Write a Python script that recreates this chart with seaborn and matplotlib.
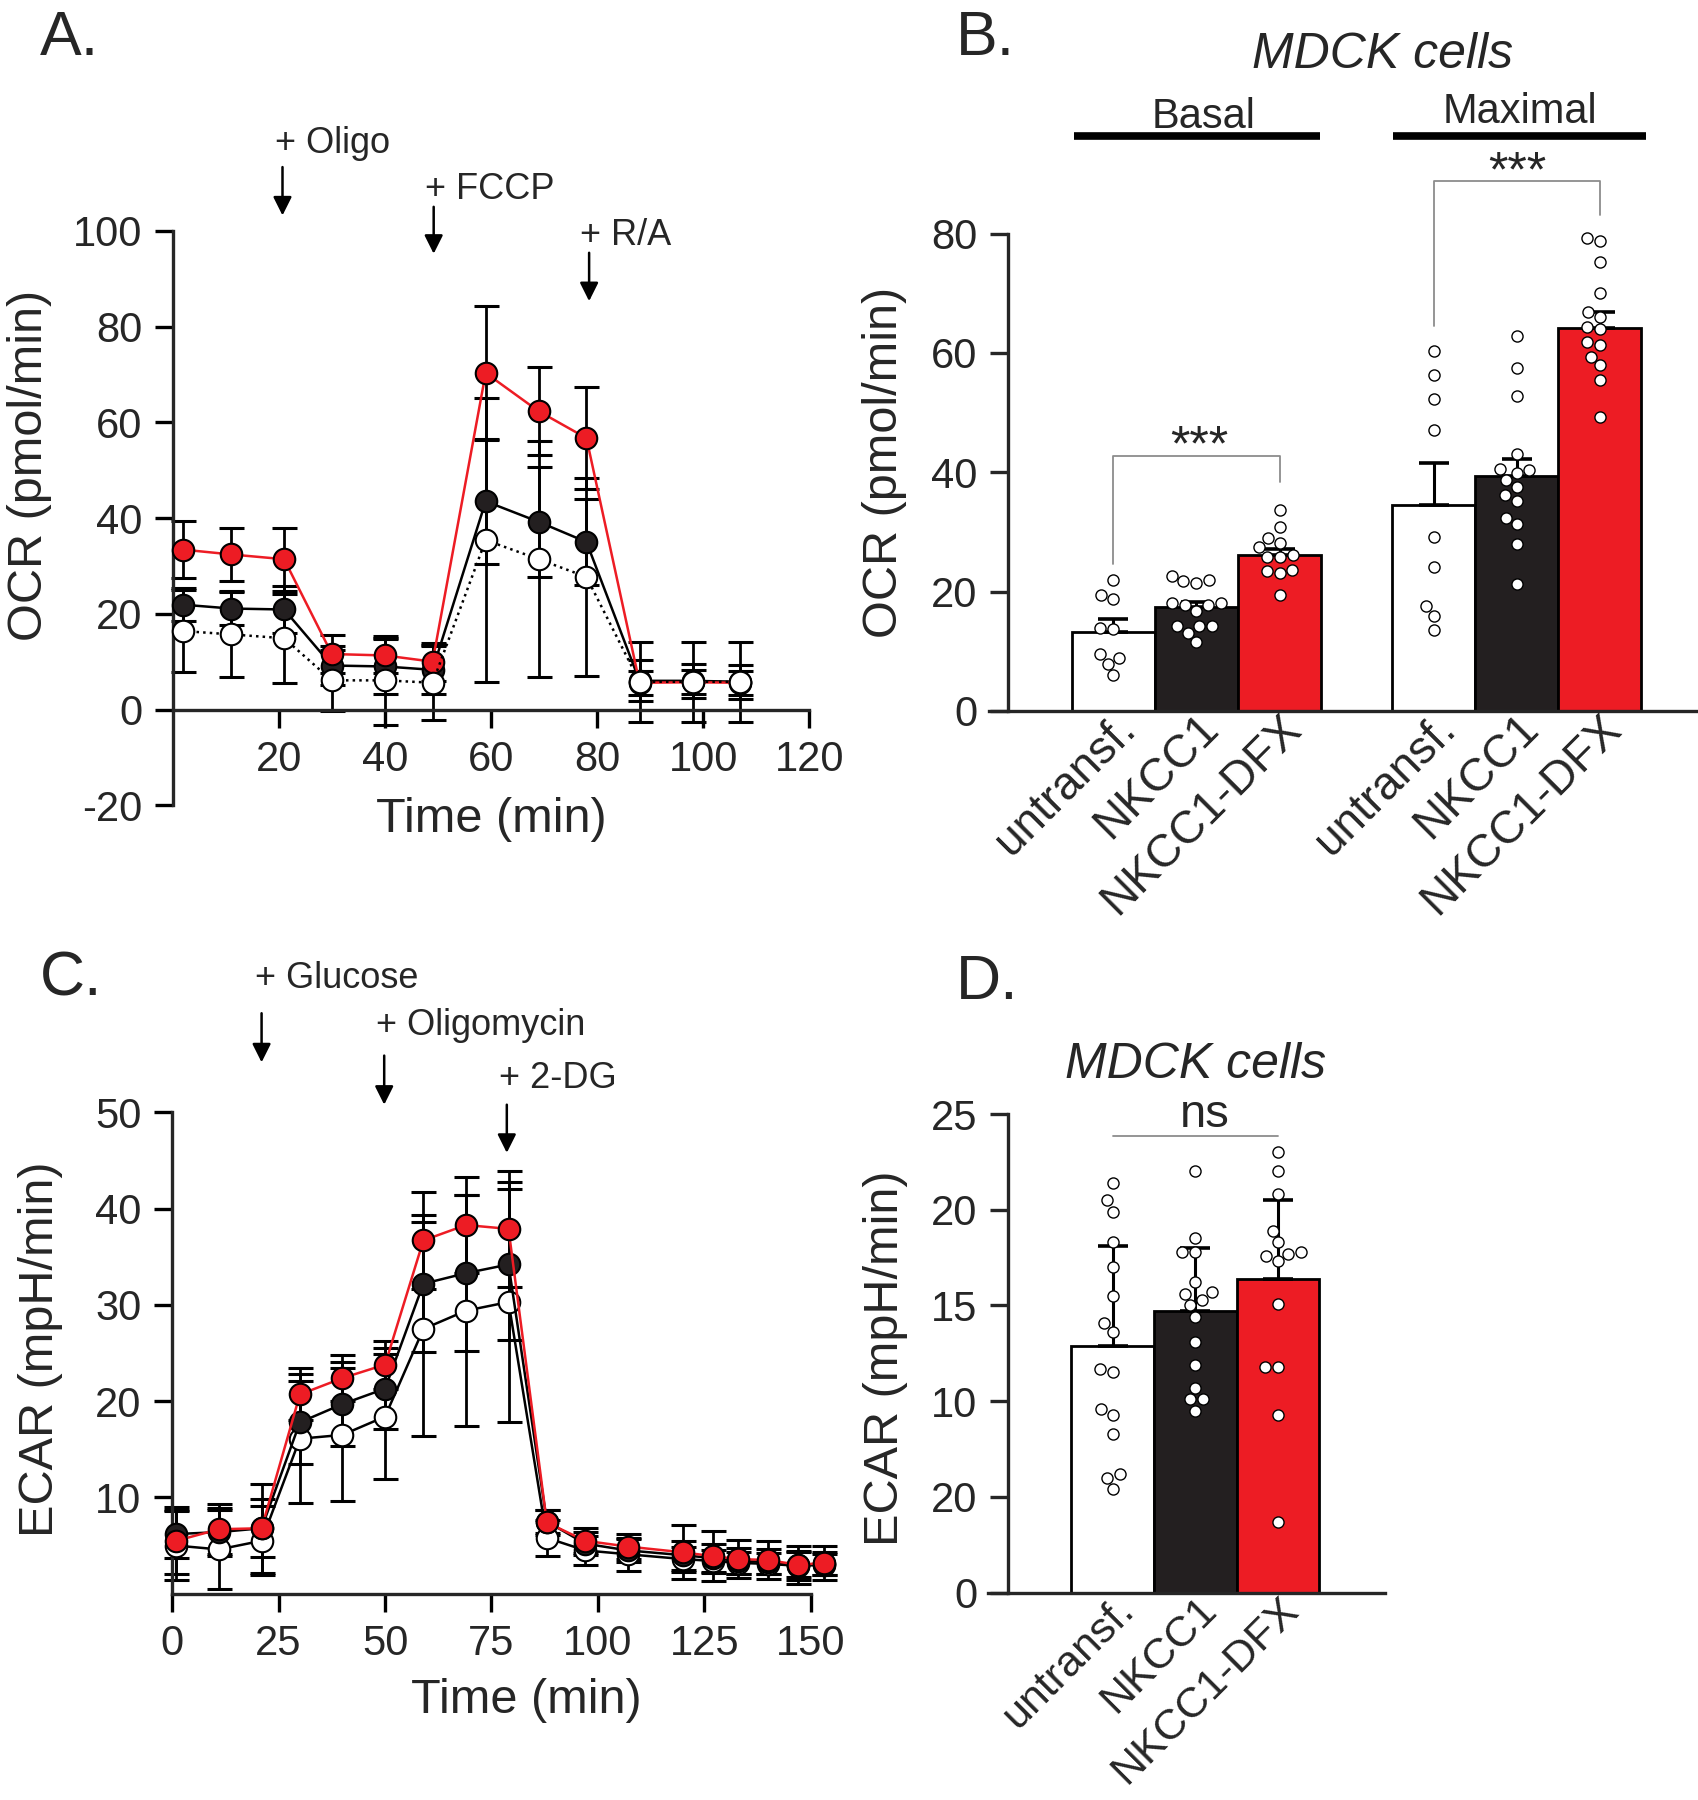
import numpy as np
import pandas as pd
import seaborn as sns
import matplotlib.pyplot as plt
import matplotlib.transforms as mtransforms

# ---------------- data ----------------
# A. OCR time course
time_a = [2, 11, 21, 30, 40, 49, 59, 69, 78, 88, 98, 107]
ocr_untransf = [16.4, 15.7, 14.9, 6.1, 6.1, 5.6, 35.4, 31.4, 27.7, 5.8, 5.8, 5.8]
ocr_untransf_err = [8.6, 9.0, 9.3, 6.3, 9.3, 7.8, 29.6, 24.6, 20.6, 8.3, 8.3, 8.3]
ocr_nkcc1 = [21.9, 21.1, 20.9, 9.2, 9.0, 8.3, 43.5, 39.2, 35.0, 6.0, 6.0, 5.8]
ocr_nkcc1_err = [3.5, 3.5, 5.0, 4.0, 5.7, 5.0, 13.0, 11.5, 9.0, 4.3, 3.5, 3.5]
ocr_dfx = [33.4, 32.4, 31.4, 11.6, 11.3, 10.0, 70.3, 62.3, 56.7, 5.6, 5.7, 5.6]
ocr_dfx_err = [6.0, 5.6, 6.6, 4.0, 3.6, 4.0, 14.0, 9.2, 10.7, 2.5, 2.5, 2.5]

# C. ECAR time course
time_c = [1, 11, 21, 30, 40, 50, 59, 69, 79, 88, 97, 107, 120, 127, 133, 140, 147, 153]
ecar_untransf = [5.0, 4.6, 5.5, 16.1, 16.5, 18.4, 27.5, 29.4, 30.3, 5.8, 4.5, 4.1, 3.6, 3.4, 3.2, 3.1, 2.9, 3.0]
ecar_untransf_err = [3.6, 4.1, 3.6, 6.7, 6.9, 6.5, 11.1, 12.0, 12.5, 1.9, 1.5, 1.7, 1.3, 1.1, 1.1, 1.1, 1.5, 1.1]
ecar_nkcc1 = [6.2, 6.4, 6.8, 17.8, 19.7, 21.3, 32.2, 33.3, 34.2, 7.5, 5.2, 4.5, 4.0, 3.7, 3.4, 3.3, 3.0, 3.1]
ecar_nkcc1_err = [2.5, 2.5, 3.0, 4.3, 4.4, 4.2, 7.1, 8.1, 7.8, 1.2, 1.2, 1.2, 1.5, 1.5, 1.3, 1.3, 1.3, 1.2]
ecar_dfx = [5.5, 6.7, 6.8, 20.7, 22.4, 23.8, 36.7, 38.3, 37.9, 7.4, 5.5, 4.9, 4.3, 3.9, 3.6, 3.5, 3.0, 3.2]
ecar_dfx_err = [3.5, 2.6, 4.6, 2.7, 2.4, 2.5, 5.0, 5.0, 6.0, 1.3, 1.3, 1.3, 2.8, 2.6, 2.0, 2.0, 2.0, 1.8]

# B. OCR bars (basal / maximal)
conditions = ['untransf.', 'NKCC1', 'NKCC1-DFX']
ocr_groups = ['Basal', 'Maximal']
basal_mean = [13.2, 17.4, 26.1]
basal_err = [2.2, 0.9, 1.0]
maximal_mean = [34.5, 39.3, 64.2]
maximal_err = [7.1, 3.0, 2.7]
basal_pts = [
    [22.0, 19.5, 18.8, 13.9, 13.7, 8.9, 9.6, 7.9, 6.0],
    [22.6, 21.7, 21.5, 22.0, 17.8, 17.8, 16.8, 18.1, 18.1, 14.2, 14.2, 14.2, 11.5, 13.1],
    [33.6, 30.9, 29.0, 28.2, 27.5, 26.1, 25.8, 25.8, 23.6, 23.1, 23.4, 19.5],
]
maximal_pts = [
    [60.4, 56.3, 52.2, 47.1, 29.2, 24.1, 17.6, 15.9, 13.5],
    [62.9, 57.5, 52.8, 43.0, 40.6, 40.3, 38.7, 39.8, 37.6, 35.2, 36.2, 31.3, 32.4, 28.0, 21.2],
    [78.7, 79.3, 75.3, 70.0, 66.9, 66.1, 64.0, 64.3, 61.3, 61.9, 59.4, 57.9, 55.5, 49.2],
]

# D. ECAR bars
ecar_mean = [12.9, 14.7, 16.4]
ecar_err = [5.2, 3.3, 4.1]
ecar_pts = [
    [21.4, 20.5, 19.9, 18.3, 17.0, 15.5, 14.1, 13.6, 11.7, 11.5, 9.6, 9.3, 8.3, 6.2, 6.0, 5.4],
    [22.0, 18.5, 17.8, 17.8, 16.2, 15.6, 15.7, 15.3, 15.0, 14.4, 13.1, 11.9, 10.7, 10.1, 10.1, 9.5],
    [23.0, 22.0, 20.8, 18.9, 18.3, 17.7, 17.6, 17.8, 17.3, 15.1, 11.8, 11.8, 9.3, 3.7],
]
d_ytick_labels = ['0', '20', '10', '15', '20', '25']

# ---------------- style ----------------
sns.set_style('ticks')
plt.rcParams['font.family'] = ['Liberation Sans', 'DejaVu Sans']
plt.rcParams['axes.unicode_minus'] = False
plt.rcParams['axes.linewidth'] = 2.4

RED = '#ed1c24'
BLACK = '#231f20'
palette = dict(zip(conditions, ['white', BLACK, RED]))

fig = plt.figure(figsize=(16.98, 18), dpi=100)
axA = fig.add_axes([0.1017, 0.5526, 0.3749, 0.3192])
axB = fig.add_axes([0.5822, 0.6051, 0.4178, 0.2651])
axC = fig.add_axes([0.1014, 0.1146, 0.3761, 0.2674])
axD = fig.add_axes([0.5817, 0.1152, 0.2337, 0.2659])


def style_axes(ax):
    ax.spines[['top', 'right']].set_visible(False)
    ax.tick_params(length=13, width=2.4, labelsize=30, pad=9, color='black')


def time_course(ax, t, series):
    for vals, errs, face, ls, z in series:
        ax.errorbar(t, vals, yerr=errs, fmt='none', ecolor='black', elinewidth=2,
                    capsize=9, capthick=2.2, zorder=2, clip_on=False)
        line_color = RED if face == RED else 'black'
        sns.lineplot(x=t, y=vals, ax=ax, color=line_color, linestyle=ls, linewidth=1.8,
                     marker='o', markersize=15.5, markerfacecolor=face,
                     markeredgecolor='black', markeredgewidth=1.5, zorder=z, clip_on=False)


def arrow(ax, x, y0, y1, label, tx, ty):
    ax.annotate('', xy=(x, y1), xytext=(x, y0), annotation_clip=False,
                arrowprops=dict(arrowstyle='-|>', color='black', lw=1.8, mutation_scale=28,
                                shrinkA=0, shrinkB=0))
    ax.text(tx, ty, label, fontsize=26, ha='left', va='baseline', clip_on=False)


# ---------------- A ----------------
time_course(axA, time_a, [
    (ocr_nkcc1, ocr_nkcc1_err, BLACK, '-', 3),
    (ocr_dfx, ocr_dfx_err, RED, '-', 4),
    (ocr_untransf, ocr_untransf_err, 'white', ':', 5),
])
style_axes(axA)
axA.set_xlim(0, 120)
axA.set_ylim(-20, 100)
axA.spines['bottom'].set_position(('data', 0))
axA.set_xticks([20, 40, 60, 80, 100, 120])
axA.set_yticks(range(-20, 101, 20))
axA.set_xlabel('Time (min)', fontsize=35)
axA.set_ylabel('OCR (pmol/min)', fontsize=35)
axA.xaxis.set_label_coords(0.5, 0.015)
axA.yaxis.set_label_coords(-0.19, 0.592)
arrow(axA, 20.7, 113.3, 103.2, '+ Oligo', 19.3, 116.3)
arrow(axA, 49.2, 105.0, 95.2, '+ FCCP', 47.5, 106.7)
arrow(axA, 78.5, 95.4, 85.3, '+ R/A', 76.7, 97.0)

# ---------------- C ----------------
time_course(axC, time_c, [
    (ecar_untransf, ecar_untransf_err, 'white', '-', 3),
    (ecar_nkcc1, ecar_nkcc1_err, BLACK, '-', 4),
    (ecar_dfx, ecar_dfx_err, RED, '-', 5),
])
style_axes(axC)
axC.set_xlim(0, 150)
axC.set_ylim(0, 50)
axC.set_xticks(range(0, 151, 25))
axC.set_yticks(range(10, 51, 10))
axC.set_xlabel('Time (min)', fontsize=35)
axC.set_ylabel('ECAR (mpH/min)', fontsize=35)
axC.xaxis.set_label_coords(0.554, -0.175)
axC.yaxis.set_label_coords(-0.171, 0.508)
arrow(axC, 21, 60.3, 55.2, '+ Glucose', 19.5, 62.9)
arrow(axC, 49.8, 55.9, 50.8, '+ Oligomycin', 47.9, 58.0)
arrow(axC, 78.6, 50.8, 45.8, '+ 2-DG', 76.7, 52.5)


# ---------------- bar panels ----------------
def bar_panel(ax, pos, means, errs, pts, conds, label_size):
    bars = pd.DataFrame({'pos': pos, 'val': means, 'cond': conds})
    sns.barplot(data=bars, x='pos', y='val', hue='cond', palette=palette, native_scale=True,
                orient='x', width=1, dodge=False, errorbar=None, edgecolor='black',
                linewidth=2, saturation=1, legend=False, ax=ax, zorder=1)
    ax.errorbar(pos, means, yerr=[np.zeros(len(means)), errs], fmt='none', ecolor='black',
                elinewidth=2.2, capsize=11, capthick=2.6, zorder=2)
    rows = [(p, v) for p, vals in zip(pos, pts) for v in vals]
    dots = pd.DataFrame(rows, columns=['pos', 'val'])
    sns.swarmplot(data=dots, x='pos', y='val', native_scale=True, orient='x', color='white',
                  edgecolor='black', linewidth=1, size=8, ax=ax, zorder=3, clip_on=False)
    ax.spines[['top', 'right']].set_visible(False)
    ax.tick_params(axis='y', length=13, width=2.4, labelsize=30, pad=9)
    ax.set_xticks(pos)
    ax.set_xticklabels(conds, rotation=45, ha='right', va='center', rotation_mode='anchor',
                       fontsize=label_size)
    ax.tick_params(axis='x', length=0, pad=8)
    shift = mtransforms.ScaledTranslation(0.15, 0, fig.dpi_scale_trans)
    for lab in ax.get_xticklabels():
        lab.set_transform(lab.get_transform() + shift)
    ax.set_xlabel('')


gap = 0.85
pos_b = [g * (3 + gap) + i for g in range(len(ocr_groups)) for i in range(len(conditions))]
bar_panel(axB, pos_b, basal_mean + maximal_mean, basal_err + maximal_err,
          basal_pts + maximal_pts, conditions * 2, 33)
axB.set_xlim(-1.5, 7.03)
axB.set_ylim(0, 80)
axB.spines['left'].set_position(('data', -1.27))
axB.set_yticks(range(0, 81, 20))
axB.set_ylabel('OCR (pmol/min)', fontsize=35)
axB.yaxis.set_label_coords(-0.115, 0.52)

# group headers and significance
axB.plot([-0.47, 2.49], [96.3, 96.3], color='black', lw=5.5, clip_on=False, solid_capstyle='butt')
axB.plot([3.36, 6.4], [96.3, 96.3], color='black', lw=5.5, clip_on=False, solid_capstyle='butt')
axB.text(1.08, 97.7, ocr_groups[0], fontsize=30, ha='center', va='baseline')
axB.text(4.89, 98.6, ocr_groups[1], fontsize=30, ha='center', va='baseline')
axB.text(3.24, 107.7, 'MDCK cells', fontsize=36, style='italic', ha='center', va='baseline')
axB.plot([pos_b[0], pos_b[0], pos_b[2], pos_b[2]], [24.6, 42.7, 42.7, 38.4],
         color='#8c8c8c', lw=1.3, clip_on=False)
axB.plot([pos_b[3], pos_b[3], pos_b[5], pos_b[5]], [64.5, 88.9, 88.9, 83.2],
         color='#8c8c8c', lw=1.3, clip_on=False)
axB.text(1.03, 40.3, '***', fontsize=36, ha='center', va='bottom')
axB.text(4.86, 86.2, '***', fontsize=36, ha='center', va='bottom', clip_on=False)

# D
pos_d = list(range(len(conditions)))
bar_panel(axD, pos_d, ecar_mean, ecar_err, ecar_pts, conditions, 31)
axD.set_xlim(-1.51, 3.29)
axD.set_ylim(0, 25)
axD.spines['left'].set_position(('data', -1.27))
axD.set_yticks(range(0, 26, 5))
axD.set_yticklabels(d_ytick_labels)
axD.set_ylabel('ECAR (mpH/min)', fontsize=35)
axD.yaxis.set_label_coords(-0.2016, 0.49)
axD.plot([0, 2], [23.85, 23.85], color='#8c8c8c', lw=1.3, clip_on=False)
axD.text(1.12, 24.3, 'ns', fontsize=34, ha='center', va='baseline', clip_on=False)
axD.text(1.01, 26.9, 'MDCK cells', fontsize=36, style='italic', ha='center', va='baseline',
         clip_on=False)

# panel letters
fig.text(40 / 1698, 1 - 9 / 1800, 'A.', fontsize=45, ha='left', va='top')
fig.text(956 / 1698, 1 - 9 / 1800, 'B.', fontsize=45, ha='left', va='top')
fig.text(40 / 1698, 1 - 950 / 1800, 'C.', fontsize=45, ha='left', va='top')
fig.text(956 / 1698, 1 - 953 / 1800, 'D.', fontsize=45, ha='left', va='top')

fig.savefig('out.png', dpi=100)
